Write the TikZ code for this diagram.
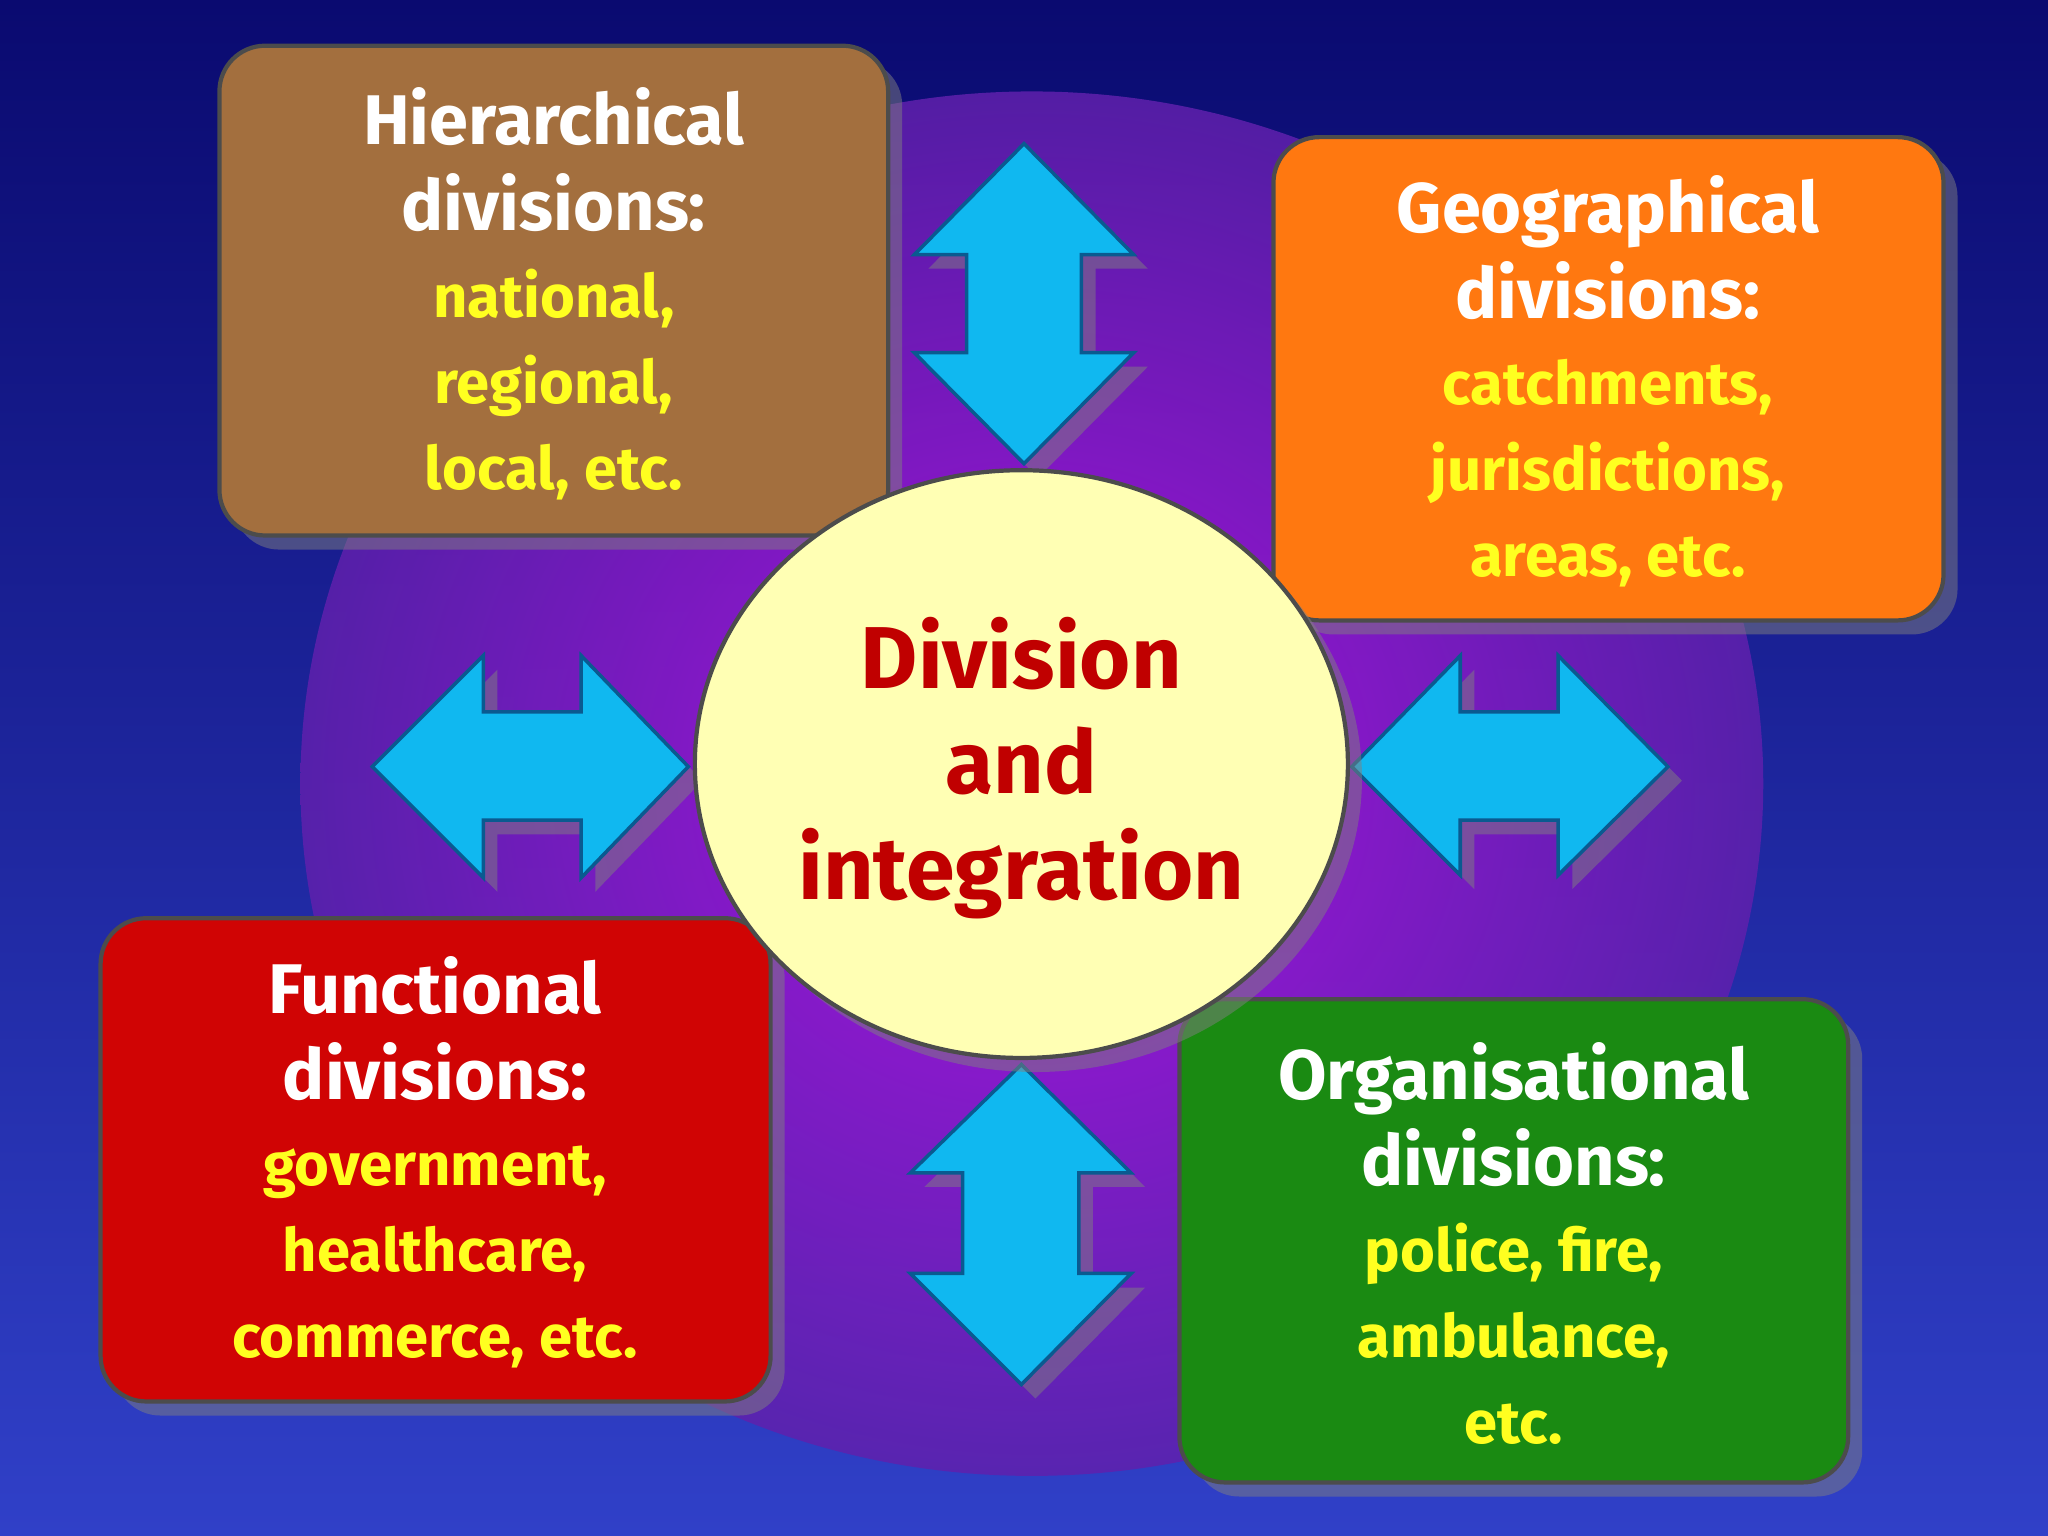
\documentclass[tikz,border=0pt]{standalone}
\usepackage{fontspec}
\setmainfont{Fira Sans}
\usetikzlibrary{shadows}
\definecolor{bgtop}{HTML}{0A0A70}
\definecolor{bgbot}{HTML}{3040C8}
\definecolor{glow}{HTML}{C010E8}
\definecolor{cyanA}{HTML}{10B8F0}
\definecolor{cyanD}{HTML}{0A5A90}
\definecolor{brownB}{HTML}{A36F3E}
\definecolor{orangeB}{HTML}{FF7810}
\definecolor{redB}{HTML}{D00404}
\definecolor{greenB}{HTML}{1A8A12}
\definecolor{circY}{HTML}{FFFFB4}
\definecolor{txtY}{HTML}{FFFF20}
\definecolor{txtR}{HTML}{C00000}
\tikzset{
 divbox/.style={rounded corners=13pt, draw=black!70, line width=1.2pt, drop shadow={shadow xshift=4pt,shadow yshift=-4pt,opacity=0.5}},
 arr/.style={fill=cyanA, draw=cyanD, line width=1pt, drop shadow={shadow xshift=4pt,shadow yshift=-4pt,opacity=0.5}},
 boxtxt/.style={align=center, text=white, font=\bfseries\fontsize{20}{24.5}\selectfont},
}
\newcommand{\yl}[1]{{\color{txtY}\fontsize{17}{20.5}\selectfont #1}}
\begin{document}
\begin{tikzpicture}[x=0.01306cm,y=-0.01306cm]
\useasboundingbox (0,0) rectangle (1568,1176);
\shade[top color=bgtop, bottom color=bgbot] (0,0) rectangle (1568,1176);
\shade[inner color=glow, outer color=bgbot!50!glow!80!black, opacity=0.85] (790,600) ellipse [x radius=560, y radius=530];
% arrows
\draw[arr] (784,110)--(868,195)--(828,195)--(828,270)--(868,270)--(784,355)--(700,270)--(740,270)--(740,195)--(700,195)--cycle;
\draw[arr] (782,815)--(866,898)--(826,898)--(826,975)--(866,975)--(782,1060)--(697,975)--(737,975)--(737,898)--(697,898)--cycle;
\draw[arr] (285,587)--(370,502)--(370,545)--(445,545)--(445,502)--(527,587)--(445,672)--(445,628)--(370,628)--(370,672)--cycle;
\draw[arr] (1035,587)--(1118,502)--(1118,545)--(1193,545)--(1193,502)--(1277,587)--(1193,670)--(1193,628)--(1118,628)--(1118,670)--cycle;
% boxes
\draw[divbox, fill=brownB] (168,35) rectangle (680,410);
\draw[divbox, fill=orangeB] (975,105) rectangle (1488,475);
\draw[divbox, fill=redB] (77,703) rectangle (590,1073);
\draw[divbox, fill=greenB] (903,765) rectangle (1415,1135);
\node[boxtxt] (h) at (424,225) {Hierarchical\\divisions:\\\yl{national,}\\\yl{regional,}\\\yl{local, etc.}};
\node[boxtxt] (g) at (1231,292) {Geographical\\divisions:\\\yl{catchments,}\\\yl{jurisdictions,}\\\yl{areas, etc.}};
\node[boxtxt] (f) at (333,890) {Functional\\divisions:\\\yl{government,}\\\yl{healthcare,}\\\yl{commerce, etc.}};
\node[boxtxt] (og) at (1159,952) {Organisational\\divisions:\\\yl{police, fire,}\\\yl{ambulance,}\\\yl{etc.}};
% circle
\draw[fill=circY, draw=black!70, line width=1.2pt, drop shadow={shadow xshift=4pt,shadow yshift=-4pt,opacity=0.5}] (782,585) ellipse [x radius=250, y radius=225];
\node[align=center, text=txtR, font=\bfseries\fontsize{25}{30}\selectfont] (c) at (782,588) {Division\\and\\integration};
\end{tikzpicture}
\end{document}
